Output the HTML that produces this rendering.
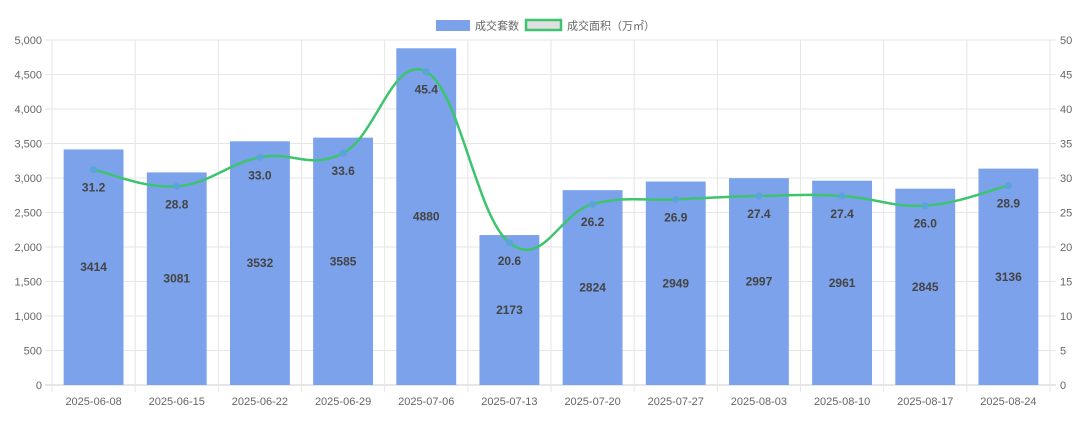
<!DOCTYPE html>
<html><head><meta charset="utf-8"><style>
body{margin:0;background:#fff;width:1080px;height:421px;overflow:hidden;font-family:"Liberation Sans","Noto Sans CJK SC",sans-serif}
svg text{font-family:"Liberation Sans","Noto Sans CJK SC",sans-serif}
</style></head><body>
<svg id="c" width="1080" height="421" xmlns="http://www.w3.org/2000/svg">
<g>
<rect x="436" y="20" width="34" height="11" fill="#7ba2ea"/>
<text x="475" y="29.5" font-size="11" fill="#666">成交套数</text>
<rect x="526" y="20" width="35" height="10" fill="#e0e0e0" stroke="#3cc46e" stroke-width="2.5"/>
<text x="567" y="29.5" font-size="11" fill="#666">成交面积（万㎡）</text>
</g>
</svg>
<script>
const categories=["2025-06-08","2025-06-15","2025-06-22","2025-06-29","2025-07-06","2025-07-13","2025-07-20","2025-07-27","2025-08-03","2025-08-10","2025-08-17","2025-08-24"];
const countValues=[3414,3081,3532,3585,4880,2173,2824,2949,2997,2961,2845,3136];
const areaValues=[31.2,28.8,33.0,33.6,45.4,20.6,26.2,26.9,27.4,27.4,26.0,28.9];
const leftTicks=[0,500,1000,1500,2000,2500,3000,3500,4000,4500,5000];
const rightTicks=[0,5,10,15,20,25,30,35,40,45,50];
const NS="http://www.w3.org/2000/svg";
const svg=document.getElementById('c');
const L=52,R=1050,T=40,B=385;
const step=(R-L)/categories.length;
const xC=i=>L+step*(i+0.5);
const yL=v=>B-(v/5000)*(B-T);
const yR=v=>B-(v/50)*(B-T);
function mk(tag,attrs,parent){const e=document.createElementNS(NS,tag);for(const k in attrs)e.setAttribute(k,attrs[k]);(parent||svg).appendChild(e);return e;}
const grid=mk('g',{});


leftTicks.forEach((t,i)=>{
 const y=yL(t);
 const ln=mk('line',{x1:45,x2:R+6,y1:y,y2:y,stroke:i==0?'#ccc':'#e6e6e6','stroke-width':1},grid);
 
 
 const tx=mk('text',{x:42,y:y+4,'text-anchor':'end','font-size':11,fill:'#666'});
 tx.textContent=t.toLocaleString('en-US');
 
 
});
rightTicks.forEach(t=>{
 const tx=mk('text',{x:1060,y:yR(t)+4,'font-size':11,fill:'#666'});
 tx.textContent=t;
 
 
});
for(let i=0;i<=categories.length;i++){
 const x=L+step*i;
 const ln=mk('line',{x1:x,x2:x,y1:T,y2:B+7,stroke:'#e6e6e6','stroke-width':1},grid);
 
 
}
categories.forEach((c,i)=>{
 const tx=mk('text',{x:xC(i),y:405,'text-anchor':'middle','font-size':11,fill:'#666'});
 tx.textContent=c;
 
 
});
const bw=step*0.72;
countValues.forEach((v,i)=>{
 const r=mk('rect',{x:xC(i)-bw/2,y:yL(v),width:bw,height:B-yL(v),fill:'#7ba2ea'});
 
 
});
// line
const pts=areaValues.map((v,i)=>[xC(i),yR(v)]);
let d='M'+pts[0][0]+','+pts[0][1];
const tn=0.4;
for(let i=0;i<pts.length-1;i++){
 const p0=pts[Math.max(0,i-1)],p1=pts[i],p2=pts[i+1],p3=pts[Math.min(pts.length-1,i+2)];
 const c1=[p1[0]+(p2[0]-p0[0])*tn/2,p1[1]+(p2[1]-p0[1])*tn/2];
 const c2=[p2[0]-(p3[0]-p1[0])*tn/2,p2[1]-(p3[1]-p1[1])*tn/2];
 d+=` C${c1[0]},${c1[1]} ${c2[0]},${c2[1]} ${p2[0]},${p2[1]}`;
}
const path=mk('path',{d:d,fill:'none',stroke:'#3cc46e','stroke-width':2.5});


pts.forEach((p,i)=>{
 const c=mk('circle',{cx:p[0],cy:p[1],r:3.5,fill:'#5aa5d8'});
 
 
});
countValues.forEach((v,i)=>{
 const tx=mk('text',{x:xC(i),y:(yL(v)+B)/2+4,'text-anchor':'middle','font-size':12,'font-weight':'bold',fill:'#444'});
 tx.textContent=v;
 
 
});
areaValues.forEach((v,i)=>{
 const tx=mk('text',{x:xC(i),y:yR(v)+22,'text-anchor':'middle','font-size':12,'font-weight':'bold',fill:'#444'});
 tx.textContent=v.toFixed(1);
 
 
});
</script>
</body></html>
